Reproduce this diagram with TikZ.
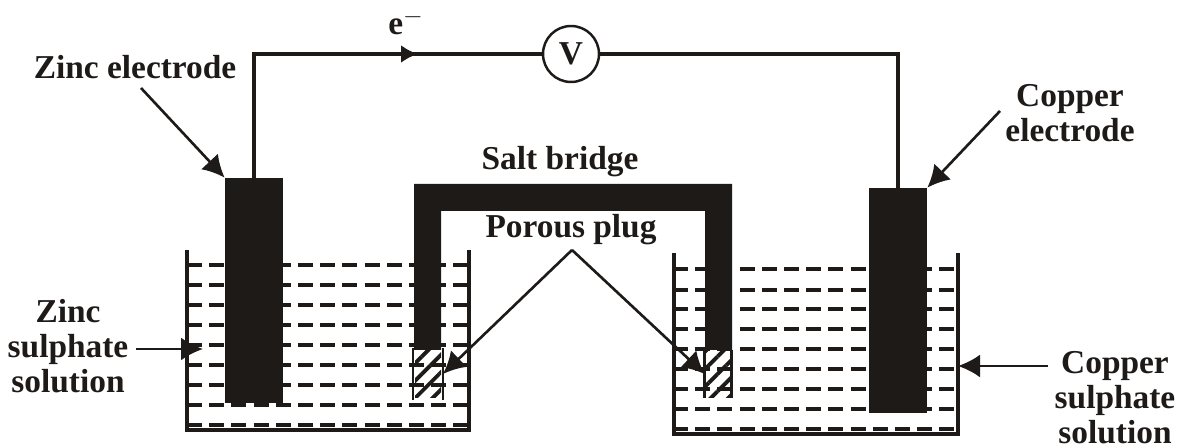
\documentclass[tikz,border=0pt]{standalone}
\usepackage{fontspec}
\setmainfont{Liberation Serif}
\usetikzlibrary{arrows.meta,patterns.meta}
\definecolor{ink}{HTML}{1E1A18}

\begin{document}
\begin{tikzpicture}[x=0.02cm, y=-0.02cm, >=Latex, color=ink]
        \tikzset{
            caption/.style={align=center, inner sep=0pt, font=\fontsize{19}{20}\selectfont\bfseries},
            electrode/.style={fill=ink, inner sep=0pt, minimum width=1.16cm},
            plug/.style={inner sep=0pt, minimum width=0.52cm, minimum height=0.96cm, pattern={Lines[angle=45, distance=7pt, line width=2.2pt]}, pattern color=ink},
            liquid/.style={line width=1.9pt, dash pattern=on 0.3cm off 0.144cm},
            beaker/.style={line width=2.4pt},
            wire/.style={line width=2.4pt},
            pointer/.style={line width=1.5pt, -{Latex[length=0.44cm, width=0.46cm]}},
        }
        \useasboundingbox (0,0) rectangle (1179,448);
        \draw[liquid] (187,265) -- (469,265) (187,285) -- (469,285) (187,305) -- (469,305);
        \draw[liquid] (187,325) -- (469,325) (187,345) -- (469,345) (187,365) -- (469,365);
        \draw[liquid] (187,385) -- (469,385) (187,405) -- (469,405) (187,425) -- (469,425);
        \draw[liquid] (673,269) -- (958,269) (673,290) -- (958,290) (673,309) -- (958,309);
        \draw[liquid] (673,329) -- (958,329) (673,349) -- (958,349) (673,369) -- (958,369);
        \draw[liquid] (673,389) -- (958,389) (673,409) -- (958,409) (673,429) -- (958,429);
        \draw[beaker] (187,250) |- (469,430) -- (469,250);
        \draw[beaker] (674,253) |- (958,434) -- (958,253);
        \node[electrode, minimum height=4.5cm] (zinc) at (254,290.5) {};
        \node[electrode, minimum height=4.5cm] (copper) at (898,300.5) {};
        \fill (414,350) |- (732,184) |- (705,350) |- (705,211) -| (441,350) -- cycle;
        \node[plug] (plugl) at (428,374) {};
        \node[plug] (plugr) at (718,374) {};
        \draw[line width=1.6pt] (plugl.north west) -- (plugl.south west);
        \draw[line width=1.6pt] (plugl.north east) -- (plugl.south east);
        \draw[line width=1.6pt] (plugr.north west) -- (plugr.south west);
        \draw[line width=1.6pt] (plugr.north east) -- (plugr.south east);
        \node[draw, circle, line width=1.4pt, minimum size=1.12cm, inner sep=0pt, font=\fontsize{19}{20}\selectfont\bfseries] (volt) at (571,54) {V};
        \coordinate (flowtail) at (395,54);
        \coordinate (flow) at (418,54);
        \draw[wire] (zinc.north) |- (volt);
        \draw[wire] (volt) -| (copper.north);
        \draw[wire, -{Latex[length=0.34cm, width=0.36cm]}] (flowtail) -- (flow);
        \node[caption, anchor=base] (emf) at (406,35) {e$^{-}$};
        \node[caption, anchor=base] (zlabel) at (135,79) {Zinc electrode};
        \node[caption] (clabel) at (1070,113) {Copper\\electrode};
        \node[caption, anchor=base] (bridge) at (560,170) {Salt bridge};
        \node[caption, anchor=base] (porous) at (571,238) {Porous plug};
        \node[caption] (zsol) at (68,346) {Zinc\\sulphate\\solution};
        \node[caption] (csol) at (1115,398) {Copper\\sulphate\\solution};
        \coordinate (apex) at (572,250);
        \coordinate (ztail) at (141,88);
        \coordinate (ctail) at (1000,111);
        \coordinate (zsoltail) at (136,349);
        \coordinate (zsoltip) at (203,349);
        \coordinate (csoltail) at (1048,366);
        \coordinate (csoltip) at (958,366);
        \draw[pointer] (ztail) -- (zinc.north west);
        \draw[pointer] (ctail) -- (copper.north east);
        \draw[pointer] (apex) -- (plugl.east);
        \draw[pointer] (apex) -- (plugr.west);
        \draw[pointer] (zsoltail) -- (zsoltip);
        \draw[pointer] (csoltail) -- (csoltip);
    \end{tikzpicture}
\end{document}
